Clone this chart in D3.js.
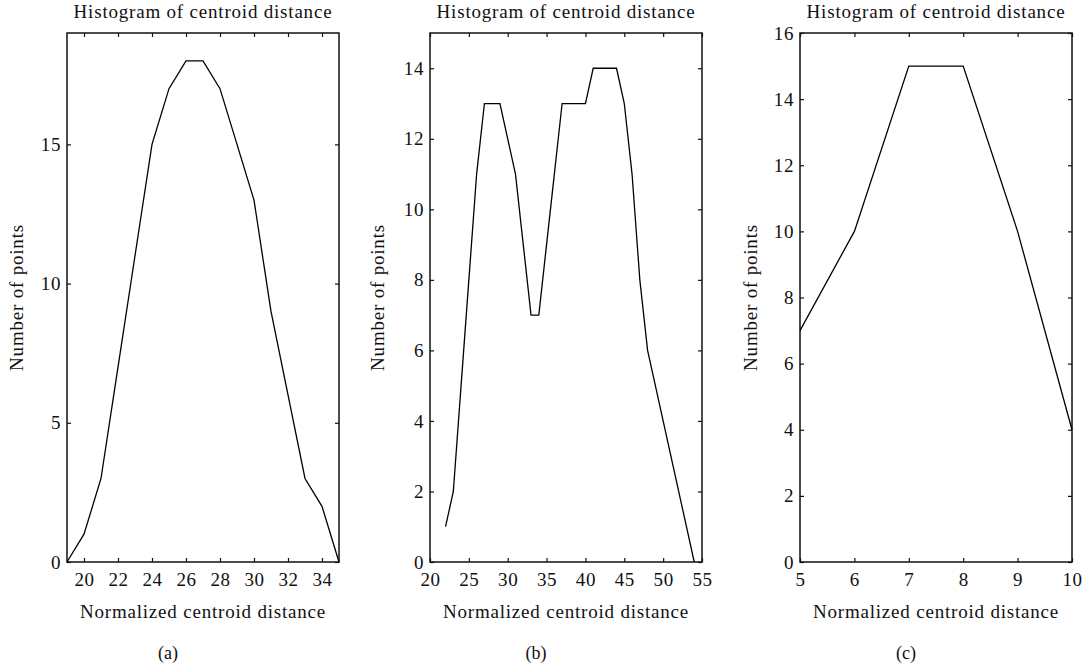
<!DOCTYPE html>
<html>
<head>
<meta charset="utf-8">
<script src="https://cdn.jsdelivr.net/npm/d3@7"></script>
<style>
    body { margin: 0; background: #fff; }
    svg text { font-family: "Liberation Serif", "Times New Roman", serif; fill: #111; }
</style>
</head>
<body>
<svg id="fig" width="1085" height="667"></svg>
<script>
// panel (a)
var xA = [19, 20, 21, 22, 23, 24, 25, 26, 27, 28, 29, 30, 31, 32, 33, 34, 35];
var yA = [0, 1, 3, 7, 11, 15, 17, 18, 18, 17, 15, 13, 9, 6, 3, 2, 0];
var xTicksA = [20, 22, 24, 26, 28, 30, 32, 34];
var yTicksA = [0, 5, 10, 15];

// panel (b)
var xB = [22, 23, 24, 25, 26, 27, 28, 29, 30, 31, 32, 33, 34, 35, 36, 37, 38, 39, 40, 41, 42, 43, 44, 45, 46, 47, 48, 49, 50, 51, 52, 53, 54];
var yB = [1, 2, 5, 8, 11, 13, 13, 13, 12, 11, 9, 7, 7, 9, 11, 13, 13, 13, 13, 14, 14, 14, 14, 13, 11, 8, 6, 5, 4, 3, 2, 1, 0];
var xTicksB = [20, 25, 30, 35, 40, 45, 50, 55];
var yTicksB = [0, 2, 4, 6, 8, 10, 12, 14];

// panel (c)
var xC = [5, 6, 7, 8, 9, 10];
var yC = [7, 10, 15, 15, 10, 4];
var xTicksC = [5, 6, 7, 8, 9, 10];
var yTicksC = [0, 2, 4, 6, 8, 10, 12, 14, 16];

var titleText = "Histogram of centroid distance";
var xLabelText = "Normalized centroid distance";
var yLabelText = "Number of points";

var panels = [
    {xs: xA, ys: yA, xDom: [19, 35], yDom: [0, 19], xTicks: xTicksA, yTicks: yTicksA,
        left: 67, right: 339, ylabX: 23, tag: "(a)", tagX: 168},
    {xs: xB, ys: yB, xDom: [20, 55], yDom: [0, 15], xTicks: xTicksB, yTicks: yTicksB,
        left: 430, right: 702, ylabX: 384, tag: "(b)", tagX: 536},
    {xs: xC, ys: yC, xDom: [5, 10], yDom: [0, 16], xTicks: xTicksC, yTicks: yTicksC,
        left: 800, right: 1072, ylabX: 757, tag: "(c)", tagX: 906}
];

// note: "top" is taken by window.top, so use other names
var plotTop = 33, plotBottom = 562;
var svg = d3.select("#fig");
var fs = "19px";
var fmt = d3.format("d");

var drawPanel = function (p) {
    var x = d3.scaleLinear().domain(p.xDom).range([p.left, p.right]);
    var y = d3.scaleLinear().domain(p.yDom).range([plotBottom, plotTop]);
    var g = svg.append("g");

    // inward ticks on all four sides
    g.append("g")
        .attr("transform", "translate(0," + plotBottom + ")")
        .call(d3.axisBottom(x).tickValues(p.xTicks).tickFormat(fmt)
            .tickSizeInner(-4).tickSizeOuter(0).tickPadding(11));
    g.append("g")
        .attr("transform", "translate(" + p.left + ",0)")
        .call(d3.axisLeft(y).tickValues(p.yTicks).tickFormat(fmt)
            .tickSizeInner(-4).tickSizeOuter(0).tickPadding(6));
    g.append("g")
        .attr("transform", "translate(0," + plotTop + ")")
        .call(d3.axisTop(x).tickValues(p.xTicks).tickSizeInner(-4).tickSizeOuter(0).tickFormat(""));
    g.append("g")
        .attr("transform", "translate(" + p.right + ",0)")
        .call(d3.axisRight(y).tickValues(p.yTicks).tickSizeInner(-4).tickSizeOuter(0).tickFormat(""));

    g.selectAll(".domain").remove();
    g.selectAll(".tick line").attr("stroke", "#111").attr("stroke-width", 1.2);
    g.selectAll(".tick text")
        .style("font-family", "'Liberation Serif', serif")
        .style("font-size", fs)
        .style("letter-spacing", "0.6px")
        .attr("fill", "#111");

    // frame
    g.append("rect")
        .attr("x", p.left).attr("y", plotTop)
        .attr("width", p.right - p.left).attr("height", plotBottom - plotTop)
        .attr("fill", "none").attr("stroke", "#111").attr("stroke-width", 1.5);

    var pts = p.xs.map(function (d, i) { return [d, p.ys[i]]; });
    var line = d3.line()
        .x(function (d) { return x(d[0]); })
        .y(function (d) { return y(d[1]); });
    g.append("path")
        .datum(pts)
        .attr("d", line)
        .attr("fill", "none")
        .attr("stroke", "#000")
        .attr("stroke-width", 1.3);

    var cx = (p.left + p.right) / 2;
    g.append("text")
        .attr("x", cx).attr("y", 18)
        .attr("text-anchor", "middle")
        .style("font-size", fs).style("letter-spacing", "0.8px")
        .text(titleText);
    g.append("text")
        .attr("x", cx).attr("y", 618)
        .attr("text-anchor", "middle")
        .style("font-size", fs).style("letter-spacing", "0.8px")
        .text(xLabelText);
    g.append("text")
        .attr("transform", "translate(" + p.ylabX + "," + (plotTop + plotBottom) / 2 + ") rotate(-90)")
        .attr("text-anchor", "middle")
        .style("font-size", fs).style("letter-spacing", "0.8px")
        .text(yLabelText);
    g.append("text")
        .attr("x", p.tagX).attr("y", 659)
        .attr("text-anchor", "middle")
        .style("font-size", "18px")
        .text(p.tag);
};

panels.forEach(drawPanel);
</script>
</body>
</html>
